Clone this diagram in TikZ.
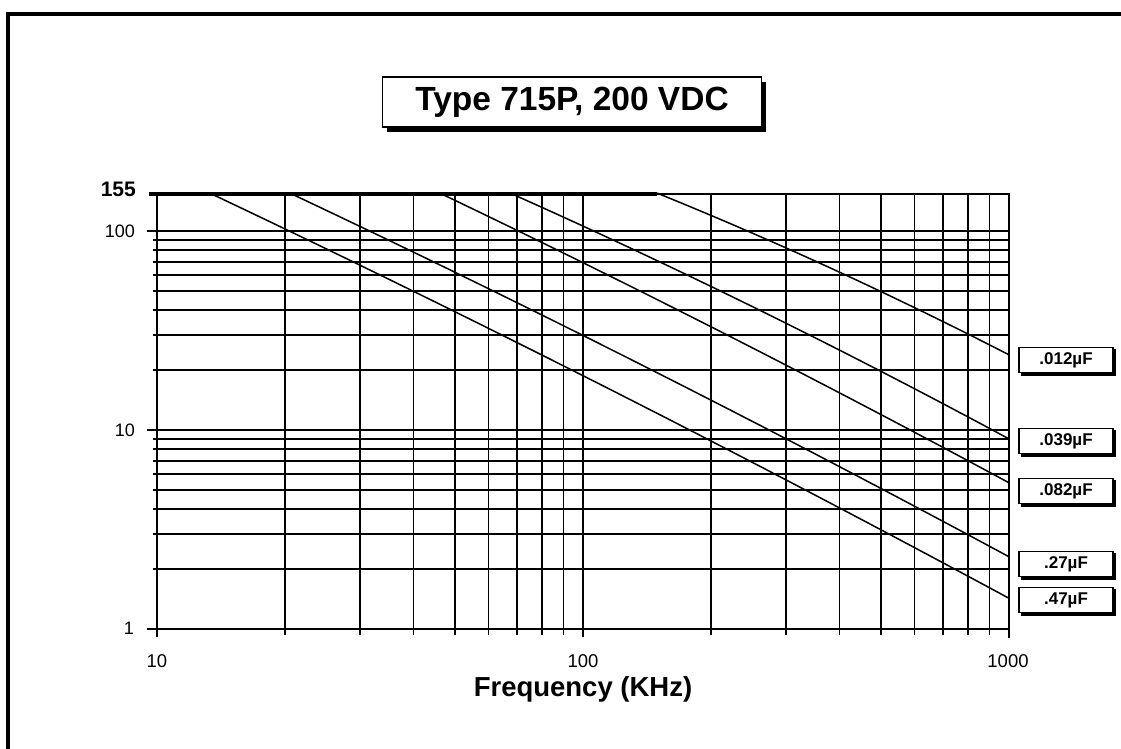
\documentclass[tikz,border=0pt]{standalone}
\usepackage{fontspec}
\setmainfont{Liberation Sans}
\begin{document}
\begin{tikzpicture}[x=1pt,y=-1pt,
  grid/.style={line width=1.6pt},
  curve/.style={line width=1.5pt},
  caplabel/.style={draw, fill=white, line width=1.2pt, minimum width=94pt, minimum height=25pt, inner sep=0pt, font=\fontsize{17}{19}\selectfont\bfseries},
  ylab/.style={anchor=east, inner sep=0pt, font=\fontsize{18}{20}\selectfont},
  xlab/.style={anchor=center, inner sep=0pt, font=\fontsize{18.5}{20}\selectfont}]
\useasboundingbox (0,0) rectangle (1121,749);
% outer frame (top and left edges visible)
\draw[line width=4pt] (8,760) -- (8,14) -- (1130,14);
% vertical grid lines
\foreach \d in {0,1}{
  \foreach \k in {2,...,9}{
    \draw[grid] ({157+426*(\d+log10(\k))},193) -- ({157+426*(\d+log10(\k))},635);
  }
}
\draw[grid] (157,193) -- (157,637);
\draw[grid] (583,193) -- (583,637);
\draw[grid] (1009,193) -- (1009,638);
% horizontal grid lines
\foreach \d in {0,1}{
  \foreach \k in {2,...,9}{
    \draw[grid] (153,{629-199*(\d+log10(\k))}) -- (1009,{629-199*(\d+log10(\k))});
  }
}
\draw[grid] (147,629) -- (1009,629);
\draw[grid] (147,430) -- (1009,430);
\draw[grid] (147,231) -- (1009,231);
\draw[grid] (657,194) -- (1009,194);
\draw[line width=4.5pt] (149,194) -- (657,194);
% curves
\draw[curve] plot[domain=0:1.876, samples=60] ({157+426*(1.124+\x-1)}, {629-199*(2.1903-1.014*\x-0.038*\x*\x)});
\draw[curve] plot[domain=0:1.688, samples=60] ({157+426*(1.312+\x-1)}, {629-199*(2.1903-1.010*\x-0.043*\x*\x)});
\draw[curve] plot[domain=0:1.336, samples=60] ({157+426*(1.664+\x-1)}, {629-199*(2.1903-1.024*\x-0.049*\x*\x)});
\draw[curve] plot[domain=0:1.171, samples=60] ({157+426*(1.829+\x-1)}, {629-199*(2.1903-0.954*\x-0.086*\x*\x)});
\draw[curve] plot[domain=0:0.826, samples=60] ({157+426*(2.174+\x-1)}, {629-199*(2.1903-0.868*\x-0.14*\x*\x)});
% y labels
\node[anchor=east, inner sep=0pt, font=\fontsize{21}{23}\selectfont\bfseries] (y155) at (136,189) {155};
\node[ylab] (y100) at (135,231) {100};
\node[ylab] (y10) at (135,430) {10};
\node[ylab] (y1) at (134,628) {1};
% x labels
\node[xlab] (x10) at (157,661) {10};
\node[xlab] (x100) at (583,661) {100};
\node[xlab] (x1000) at (1008,661) {1000};
\node[inner sep=0pt, font=\fontsize{27.5}{30}\selectfont\bfseries] (xtitle) at (583,689) {Frequency (KHz)};
% title box with shadow
\fill (387,82) rectangle (766,132);
\node[draw, fill=white, line width=1.5pt, minimum width=379pt, minimum height=50pt, inner sep=0pt,
  font=\fontsize{33.5}{36}\selectfont\bfseries] (title) at (572,102) {Type 715P, 200 VDC};
% capacitance labels
\foreach \n/\yy/\t in {c012/360/.012µF, c039/441/.039µF, c082/491/.082µF, c27/564/.27µF, c47/600/.47µF}{
  \fill ({1067.5},{\yy+1.5}) ++(-47,-12.5) rectangle ++(95,26.5);
  \node[caplabel] (\n) at (1066,\yy) {\t};
}
\end{tikzpicture}
\end{document}
